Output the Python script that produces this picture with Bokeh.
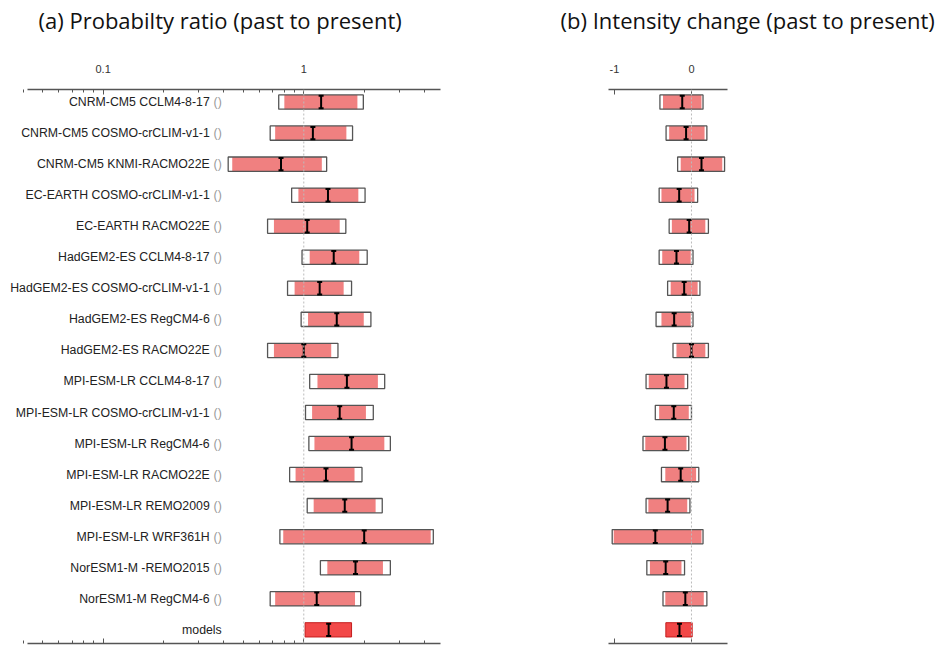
import math
from bokeh.plotting import figure
from bokeh.models import Range1d, LogAxis, LinearAxis, FixedTicker, Span, ColumnDataSource, LabelSet, Title
from bokeh.layouts import row
from bokeh.embed import file_html
from bokeh.resources import INLINE
from bokeh.core.properties import value

# ---------------- data ----------------
labels = ["CNRM-CM5 CCLM4-8-17", "CNRM-CM5 COSMO-crCLIM-v1-1", "CNRM-CM5 KNMI-RACMO22E",
          "EC-EARTH COSMO-crCLIM-v1-1", "EC-EARTH RACMO22E", "HadGEM2-ES CCLM4-8-17",
          "HadGEM2-ES COSMO-crCLIM-v1-1", "HadGEM2-ES RegCM4-6", "HadGEM2-ES RACMO22E",
          "MPI-ESM-LR CCLM4-8-17", "MPI-ESM-LR COSMO-crCLIM-v1-1", "MPI-ESM-LR RegCM4-6",
          "MPI-ESM-LR RACMO22E", "MPI-ESM-LR REMO2009", "MPI-ESM-LR WRF361H",
          "NorESM1-M -REMO2015", "NorESM1-M RegCM4-6"]
models_label = "models"

# (a) probability ratio
pr_outer_lo = [0.75, 0.68, 0.42, 0.87, 0.66, 0.98, 0.83, 0.97, 0.66, 1.07, 1.02, 1.06, 0.85, 1.04, 0.76, 1.21, 0.68]
pr_outer_hi = [1.98, 1.75, 1.30, 2.02, 1.62, 2.07, 1.73, 2.16, 1.48, 2.53, 2.22, 2.70, 1.95, 2.46, 4.42, 2.70, 1.92]
pr_inner_lo = [0.80, 0.72, 0.44, 0.94, 0.71, 1.07, 0.90, 1.05, 0.71, 1.17, 1.10, 1.13, 0.91, 1.12, 0.79, 1.31, 0.72]
pr_inner_hi = [1.85, 1.63, 1.23, 1.87, 1.51, 1.89, 1.58, 1.99, 1.37, 2.34, 2.04, 2.52, 1.79, 2.28, 4.29, 2.48, 1.80]
pr_best = [1.22, 1.11, 0.77, 1.32, 1.04, 1.41, 1.20, 1.46, 1.00, 1.64, 1.51, 1.73, 1.29, 1.60, 2.00, 1.81, 1.16]
pr_models = [1.015, 1.73]
pr_models_best = [1.33]

# (b) intensity change
ic_outer_lo = [-0.41, -0.33, -0.18, -0.42, -0.29, -0.42, -0.31, -0.46, -0.24, -0.59, -0.47, -0.63, -0.39, -0.59, -1.03, -0.58, -0.37]
ic_outer_hi = [0.15, 0.20, 0.43, 0.08, 0.22, 0.02, 0.11, 0.02, 0.22, -0.05, 0.00, -0.035, 0.095, -0.02, 0.15, -0.09, 0.20]
ic_inner_lo = [-0.37, -0.29, -0.14, -0.39, -0.255, -0.38, -0.27, -0.39, -0.195, -0.555, -0.42, -0.60, -0.34, -0.56, -1.01, -0.54, -0.34]
ic_inner_hi = [0.13, 0.17, 0.40, 0.04, 0.18, -0.01, 0.08, -0.01, 0.18, -0.09, -0.035, -0.065, 0.06, -0.055, 0.13, -0.13, 0.16]
ic_best = [-0.12, -0.07, 0.13, -0.16, -0.03, -0.195, -0.095, -0.225, 0.0, -0.325, -0.23, -0.345, -0.14, -0.31, -0.47, -0.335, -0.08]
ic_models = [-0.333, 0.009]
ic_models_best = [-0.156]

pr_ticks = [0.1, 1]
ic_ticks = [-1, 0]
pr_axis_bounds = (0.042, 4.8)
ic_axis_bounds = (-1.078, 0.468)

title_a = "(a) Probabilty ratio (past to present)"
title_b = "(b) Intensity change (past to present)"

# ---------------- styling ----------------
H = 646
Y_TOP = 0.596
Y_BOT = 18.44
BOX_H = 0.46
BAR_H = 0.2
PINK = "#f08080"
RED = "#f24848"
RED_LINE = "#c41e1e"
BOX_LINE = "#555555"
AXIS_COL = "#555555"
LABEL_FONT = "Liberation Sans"
TITLE_FONT = "Open Sans"
LABEL_X = 0.39
LEFT_PAD_PX = 27            # frame extends this far left of the axis line (room for labels)
A_AXIS_PX = 413             # length of panel (a) axis line

ys = list(range(1, len(labels) + 1))
y_models = len(labels) + 1


def style_axis(ax, bounds, labels_on=True):
    ax.bounds = bounds
    ax.axis_line_color = AXIS_COL
    ax.axis_line_width = 1.5
    ax.major_tick_line_color = AXIS_COL
    ax.minor_tick_line_color = AXIS_COL
    ax.major_tick_in = 5
    ax.major_tick_out = 0
    ax.minor_tick_in = 3
    ax.minor_tick_out = 0
    ax.major_label_text_font = LABEL_FONT
    if labels_on:
        ax.major_label_text_font_size = "11px"
        ax.major_label_text_color = "#333333"
        ax.major_label_standoff = 17
        # blank axis label used only as spacing between tick labels and title
        ax.axis_label = " "
        ax.axis_label_text_font_size = "10px"
        ax.axis_label_standoff = 7
    else:
        ax.major_label_text_font_size = "1px"
        ax.major_label_text_alpha = 0
        ax.major_label_standoff = 0


def draw_panel(p, olo, ohi, ilo, ihi, best, mrange, mbest):
    src = ColumnDataSource(dict(y=ys, olo=olo, ohi=ohi, ilo=ilo, ihi=ihi, best=best,
                                b0=[y - BAR_H for y in ys], b1=[y + BAR_H for y in ys]))
    p.hbar(y="y", left="olo", right="ohi", height=BOX_H, source=src,
           fill_color="white", line_color=None)
    p.hbar(y="y", left="ilo", right="ihi", height=BOX_H, source=src,
           fill_color=PINK, line_color=None)
    p.hbar(y="y", left="olo", right="ohi", height=BOX_H, source=src,
           fill_color=None, line_color=BOX_LINE, line_width=1.3)
    p.segment(x0="best", y0="b0", x1="best", y1="b1", source=src,
              line_color="black", line_width=2)
    p.scatter(x="best", y="b0", source=src, marker="dash", size=5, line_color="black", line_width=2)
    p.scatter(x="best", y="b1", source=src, marker="dash", size=5, line_color="black", line_width=2)
    # multi-model row
    msrc = ColumnDataSource(dict(y=[y_models], lo=[mrange[0]], hi=[mrange[1]], best=mbest,
                                 b0=[y_models - BAR_H], b1=[y_models + BAR_H]))
    p.hbar(y="y", left="lo", right="hi", height=BOX_H, source=msrc,
           fill_color=RED, line_color=RED_LINE, line_width=1)
    p.segment(x0="best", y0="b0", x1="best", y1="b1", source=msrc, line_color="black", line_width=2)
    p.scatter(x="best", y="b0", source=msrc, marker="dash", size=5, line_color="black", line_width=2)
    p.scatter(x="best", y="b1", source=msrc, marker="dash", size=5, line_color="black", line_width=2)


def add_title(p, text, xoff):
    p.add_layout(Title(text=text, align="left", offset=xoff, vertical_align="top",
                       standoff=8, text_font=TITLE_FONT, text_font_size="22px",
                       text_font_style="normal", text_color="#111111"), "above")


common = dict(height=H, output_backend="svg", toolbar_location=None,
              y_range=Range1d(Y_BOT, Y_TOP), y_axis_location=None,
              x_axis_location="above", min_border_top=0, min_border_bottom=3)

# ---------------- panel (a) ----------------
decades = math.log10(pr_axis_bounds[1] / pr_axis_bounds[0])
x_start = pr_axis_bounds[0] / 10 ** (decades * LEFT_PAD_PX / A_AXIS_PX)
p1 = figure(width=458, x_axis_type="log", x_range=Range1d(x_start, pr_axis_bounds[1]),
            min_border_left=0, min_border_right=18, **common)
p1.grid.visible = False
p1.outline_line_color = None
minor_log = [m * 10.0 ** e for e in (-2, -1, 0) for m in range(2, 10)]
p1.xaxis.ticker = FixedTicker(ticks=pr_ticks, minor_ticks=minor_log)
p1.xaxis.major_label_overrides = {0.1: "0.1", 1: "1"}
style_axis(p1.xaxis[0], pr_axis_bounds)
bot1 = LogAxis(ticker=FixedTicker(ticks=pr_ticks, minor_ticks=minor_log))
style_axis(bot1, pr_axis_bounds, labels_on=False)
p1.add_layout(bot1, "below")
p1.add_layout(Span(location=1, dimension="height", line_color="#bbbbbb",
                   line_dash="2 2", line_width=1))
draw_panel(p1, pr_outer_lo, pr_outer_hi, pr_inner_lo, pr_inner_hi, pr_best, pr_models, pr_models_best)

# row labels
lsrc = ColumnDataSource(dict(x=[LABEL_X] * len(labels) + [LABEL_X], y=ys + [y_models],
                             name=labels + [models_label],
                             par=["()"] * len(labels) + [""],
                             off=[-12] * len(labels) + [0]))
p1.add_layout(LabelSet(x="x", y="y", text="name", source=lsrc, x_offset="off",
                       text_align="right", text_baseline="middle",
                       text_font=value(LABEL_FONT), text_font_size="12.3px", text_color="#222222"))
p1.add_layout(LabelSet(x="x", y="y", text="par", source=lsrc,
                       text_align="right", text_baseline="middle",
                       text_font=value(LABEL_FONT), text_font_size="12.3px", text_color="#999999"))
add_title(p1, title_a, 38)

# ---------------- panel (b) ----------------
p2 = figure(width=486, x_range=Range1d(*ic_axis_bounds),
            min_border_left=150, min_border_right=217, **common)
p2.grid.visible = False
p2.outline_line_color = None
p2.xaxis.ticker = FixedTicker(ticks=ic_ticks)
p2.xaxis.major_label_overrides = {-1: "-1", 0: "0"}
style_axis(p2.xaxis[0], ic_axis_bounds)
bot2 = LinearAxis(ticker=FixedTicker(ticks=ic_ticks))
style_axis(bot2, ic_axis_bounds, labels_on=False)
p2.add_layout(bot2, "below")
p2.add_layout(Span(location=0, dimension="height", line_color="#bbbbbb",
                   line_dash="2 2", line_width=1))
draw_panel(p2, ic_outer_lo, ic_outer_hi, ic_inner_lo, ic_inner_hi, ic_best, ic_models, ic_models_best)
add_title(p2, title_b, -48)

layout = row(p1, p2)
open("out.html", "w").write(file_html(layout, INLINE))
